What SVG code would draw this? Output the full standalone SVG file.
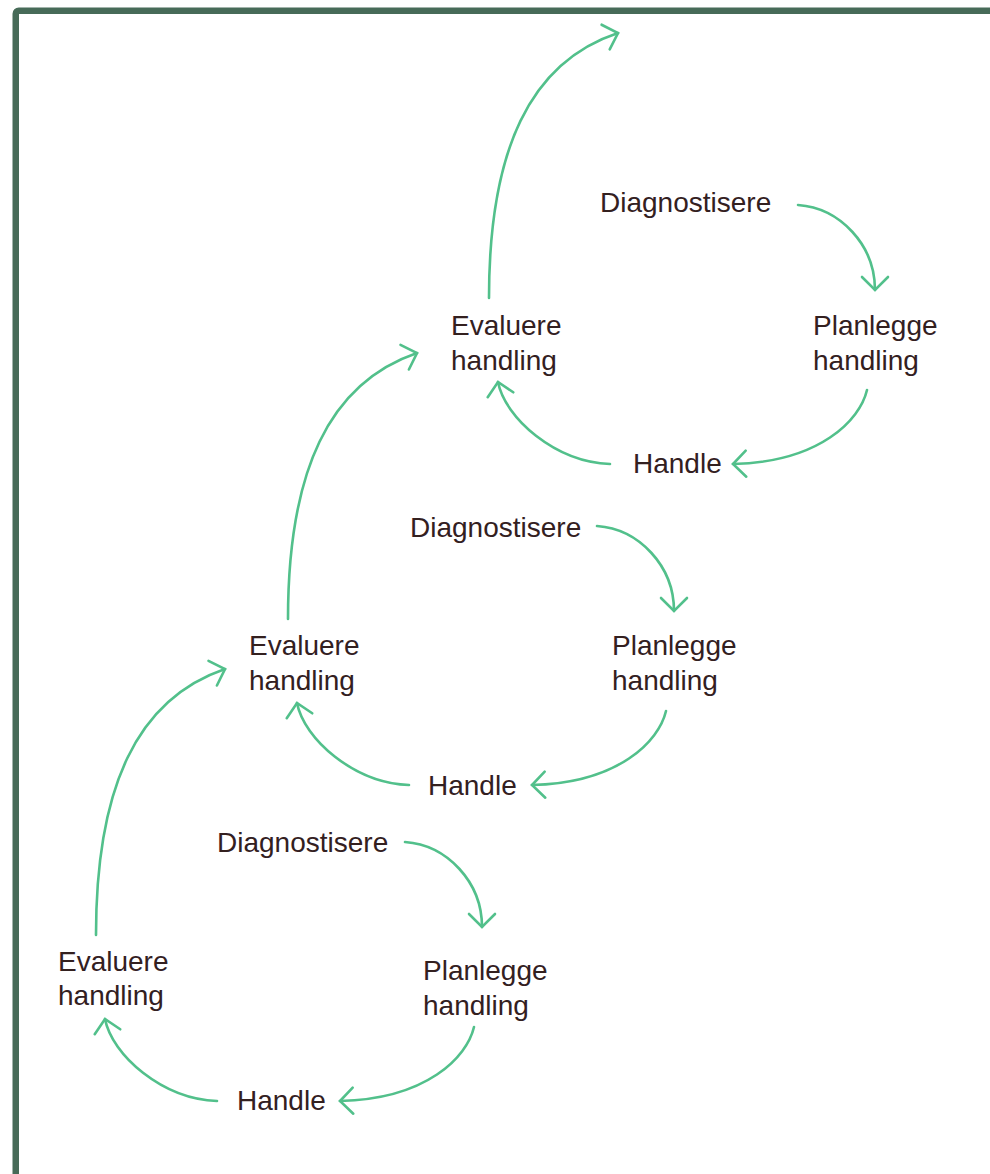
<svg xmlns="http://www.w3.org/2000/svg" width="990" height="1174" viewBox="0 0 990 1174">
  <style>
    .lbl { font-family: "Liberation Sans", Arial, sans-serif; font-size: 28px; fill: #33201f; }
    .conn { fill: none; stroke: #52c08b; stroke-width: 2.6; stroke-linecap: round; }
  </style>
  <defs>
    <marker id="vhead" markerUnits="userSpaceOnUse" markerWidth="40" markerHeight="40" refX="0" refY="0" orient="auto" overflow="visible">
      <path d="M-13,-13 L0,0 L-13,13" fill="none" stroke="#52c08b" stroke-width="2.6" stroke-linecap="round" stroke-linejoin="miter"/>
    </marker>
  </defs>
  <rect width="990" height="1174" fill="#ffffff"/>
  <rect id="frame" x="15.75" y="10.75" width="1000" height="1200" rx="3" fill="none" stroke="#476b58" stroke-width="6.5"/>

  <g id="connectors">
    <path class="conn" marker-end="url(#vhead)" d="M489,298 C489,150 530,62 618,33"/>
    <path class="conn" marker-end="url(#vhead)" d="M798,205 C840,208 875,245 875,290"/>
    <path class="conn" marker-end="url(#vhead)" d="M867,390 C860,420 820,462 733,464"/>
    <path class="conn" marker-end="url(#vhead)" d="M610,464 C555,462 505,418 498,382"/>

    <path class="conn" marker-end="url(#vhead)" d="M288,619 C288,471 329,383 417,353"/>
    <path class="conn" marker-end="url(#vhead)" d="M597,526 C639,529 674,566 674,611"/>
    <path class="conn" marker-end="url(#vhead)" d="M666,711 C659,741 619,783 532,785"/>
    <path class="conn" marker-end="url(#vhead)" d="M409,785 C354,783 304,739 297,703"/>

    <path class="conn" marker-end="url(#vhead)" d="M96,935 C96,787 137,699 225,669"/>
    <path class="conn" marker-end="url(#vhead)" d="M405,842 C447,845 482,882 482,927"/>
    <path class="conn" marker-end="url(#vhead)" d="M474,1027 C467,1057 427,1099 340,1101"/>
    <path class="conn" marker-end="url(#vhead)" d="M217,1101 C162,1099 112,1055 105,1019"/>
  </g>

  <g id="diag1"><text class="lbl" x="600" y="212">Diagnostisere</text></g>
  <g id="eval1"><text class="lbl" x="451" y="335">Evaluere</text><text class="lbl" x="451" y="370">handling</text></g>
  <g id="plan1"><text class="lbl" x="813" y="335">Planlegge</text><text class="lbl" x="813" y="370">handling</text></g>
  <g id="handle1"><text class="lbl" x="633" y="473">Handle</text></g>

  <g id="diag2"><text class="lbl" x="410" y="537">Diagnostisere</text></g>
  <g id="eval2"><text class="lbl" x="249" y="655">Evaluere</text><text class="lbl" x="249" y="690">handling</text></g>
  <g id="plan2"><text class="lbl" x="612" y="655">Planlegge</text><text class="lbl" x="612" y="690">handling</text></g>
  <g id="handle2"><text class="lbl" x="428" y="795">Handle</text></g>

  <g id="diag3"><text class="lbl" x="217" y="852">Diagnostisere</text></g>
  <g id="eval3"><text class="lbl" x="58" y="971">Evaluere</text><text class="lbl" x="58" y="1005">handling</text></g>
  <g id="plan3"><text class="lbl" x="423" y="980">Planlegge</text><text class="lbl" x="423" y="1015">handling</text></g>
  <g id="handle3"><text class="lbl" x="237" y="1110">Handle</text></g>
</svg>
